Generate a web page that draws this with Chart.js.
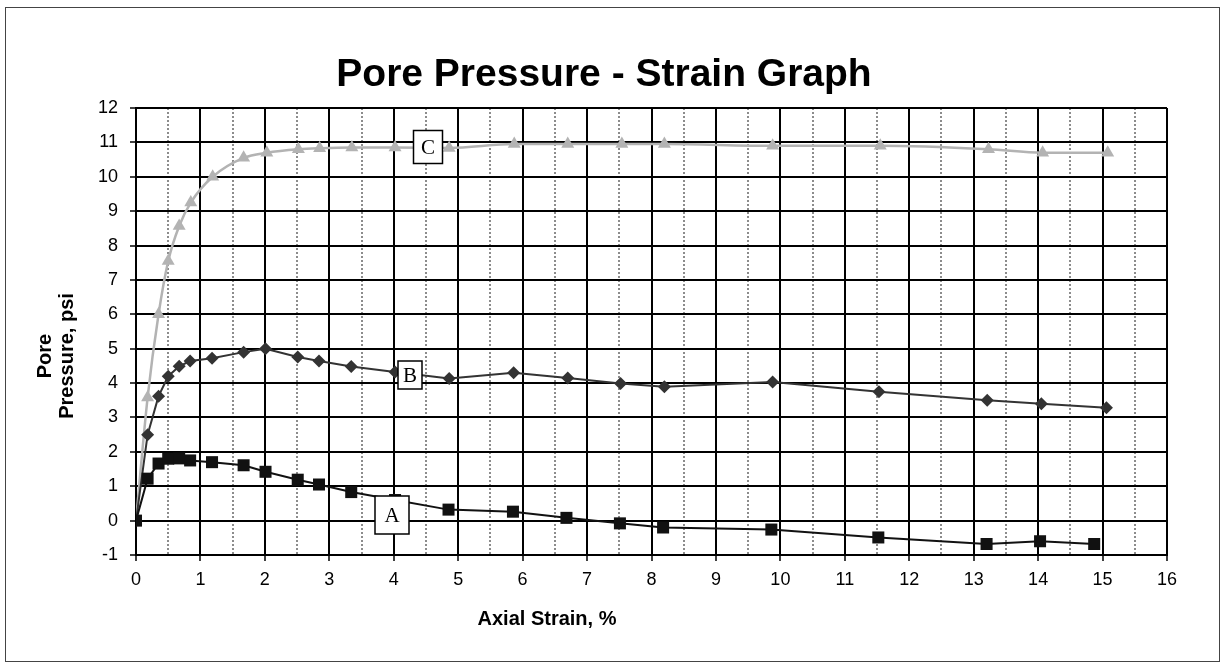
<!DOCTYPE html>
<html>
<head>
<meta charset="utf-8">
<title>Pore Pressure - Strain Graph</title>
<script src="https://cdn.jsdelivr.net/npm/chart.js@4"></script>
<style>
  body { margin: 0; background: #fff; }
  #wrap { width: 1223px; height: 666px; }
</style>
</head>
<body>
<div id="wrap"><canvas id="chart" width="1223" height="666"></canvas></div>
<script>
// Chart texts
const chartTitle = 'Pore Pressure - Strain Graph';
const xTitle = 'Axial Strain, %';
const yTitle = ['Pore', 'Pressure, psi'];

// Axis ranges
const xRange = [0, 16];
const yRange = [-1, 12];

// Curve A (squares)
const strainA = [0, 0.18, 0.35, 0.5, 0.67, 0.84, 1.18, 1.67, 2.01, 2.51, 2.84, 3.34, 4.02, 4.85, 5.85, 6.68, 7.51, 8.18, 9.86, 11.52, 13.2, 14.03, 14.87];
const poreA = [0, 1.22, 1.66, 1.80, 1.81, 1.75, 1.70, 1.61, 1.42, 1.19, 1.05, 0.83, 0.6, 0.32, 0.26, 0.08, -0.08, -0.2, -0.26, -0.49, -0.68, -0.60, -0.68];

// Curve B (diamonds)
const strainB = [0, 0.18, 0.35, 0.5, 0.67, 0.84, 1.18, 1.67, 2.01, 2.51, 2.84, 3.34, 4.02, 4.86, 5.86, 6.7, 7.52, 8.2, 9.88, 11.53, 13.21, 14.05, 15.06];
const poreB = [0, 2.50, 3.62, 4.20, 4.49, 4.64, 4.72, 4.90, 5.00, 4.76, 4.64, 4.48, 4.32, 4.13, 4.30, 4.15, 3.99, 3.89, 4.03, 3.75, 3.50, 3.40, 3.28];

// Curve C (triangles)
const strainC = [0, 0.18, 0.35, 0.5, 0.67, 0.85, 1.19, 1.67, 2.03, 2.52, 2.85, 3.35, 4.02, 4.86, 5.87, 6.7, 7.54, 8.2, 9.88, 11.55, 13.23, 14.07, 15.08];
const poreC = [0, 3.58, 6.0, 7.55, 8.57, 9.25, 10.0, 10.55, 10.7, 10.8, 10.83, 10.85, 10.85, 10.84, 10.95, 10.95, 10.95, 10.95, 10.9, 10.9, 10.8, 10.7, 10.7];

// Curve labels (letter, strain, pressure, box w, box h)
const curveLabels = [
  ['A', 3.97, 0.15, 34, 38],
  ['B', 4.25, 4.24, 24, 28],
  ['C', 4.53, 10.86, 29, 33]
];

const sansFont = '"Liberation Sans", Arial, Helvetica, sans-serif';

function toPoints(xs, ys) {
  return xs.map((x, i) => ({ x: x, y: ys[i] }));
}

function isMajor(ctx) {
  return ctx.tick && Number.isInteger(ctx.tick.value);
}

// Background, outer frame, titles and curve letters
const decorations = {
  id: 'decorations',
  beforeDraw(chart) {
    const ctx = chart.ctx;
    ctx.save();
    ctx.fillStyle = '#fff';
    ctx.fillRect(0, 0, chart.width, chart.height);
    ctx.strokeStyle = '#444';
    ctx.lineWidth = 1;
    ctx.strokeRect(5.5, 7.5, 1214, 654);
    ctx.restore();
  },
  afterDatasetsDraw(chart) {
    const ctx = chart.ctx;
    const xs = chart.scales.x;
    const ys = chart.scales.y;
    ctx.save();
    ctx.font = '21px "Liberation Serif", "Times New Roman", serif';
    ctx.textAlign = 'center';
    ctx.textBaseline = 'middle';
    curveLabels.forEach(([txt, sx, sy, w, h]) => {
      const cx = Math.round(xs.getPixelForValue(sx));
      const cy = Math.round(ys.getPixelForValue(sy));
      ctx.fillStyle = '#fff';
      ctx.fillRect(cx - w / 2, cy - h / 2, w, h);
      ctx.strokeStyle = '#000';
      ctx.lineWidth = 1.5;
      ctx.strokeRect(cx - w / 2, cy - h / 2, w, h);
      ctx.fillStyle = '#000';
      ctx.fillText(txt, cx, cy + 1);
    });
    ctx.restore();
  },
  afterDraw(chart) {
    const ctx = chart.ctx;
    ctx.save();
    ctx.fillStyle = '#000';
    ctx.textAlign = 'center';
    ctx.textBaseline = 'middle';
    ctx.font = 'bold 39px ' + sansFont;
    ctx.fillText(chartTitle, 604, 75);
    ctx.font = 'bold 20px ' + sansFont;
    ctx.fillText(xTitle, 547, 619);
    ctx.translate(45, 356);
    ctx.rotate(-Math.PI / 2);
    ctx.fillText(yTitle[0], 0, 0);
    ctx.fillText(yTitle[1], 0, 22);
    ctx.restore();
  }
};

window.onload = function() {
  const ctx = document.getElementById('chart').getContext('2d');
  new Chart(ctx, {
    type: 'scatter',
    data: {
      datasets: [
        {
          label: 'A',
          data: toPoints(strainA, poreA),
          showLine: true,
          borderColor: '#111',
          backgroundColor: '#111',
          borderWidth: 2,
          pointStyle: 'rect',
          pointRadius: 8.5,
          pointBorderWidth: 0,
          tension: 0
        },
        {
          label: 'B',
          data: toPoints(strainB, poreB),
          showLine: true,
          borderColor: '#333',
          backgroundColor: '#333',
          borderWidth: 2,
          pointStyle: 'rectRot',
          pointRadius: 6.5,
          pointBorderWidth: 0,
          tension: 0
        },
        {
          label: 'C',
          data: toPoints(strainC, poreC),
          showLine: true,
          borderColor: '#b3b3b3',
          backgroundColor: '#b3b3b3',
          borderWidth: 2.5,
          pointStyle: 'triangle',
          pointRadius: 7.5,
          pointBorderWidth: 0,
          cubicInterpolationMode: 'monotone'
        }
      ]
    },
    options: {
      responsive: false,
      animation: false,
      events: [],
      layout: { padding: { left: 0, top: 108, right: 56, bottom: 0 } },
      plugins: {
        legend: { display: false },
        tooltip: { enabled: false },
        title: { display: false }
      },
      scales: {
        x: {
          type: 'linear',
          min: xRange[0],
          max: xRange[1],
          afterFit(scale) { scale.height = 111; },
          ticks: {
            stepSize: 0.5,
            autoSkip: false,
            maxRotation: 0,
            padding: 8,
            color: '#000',
            font: { family: sansFont, size: 18 },
            callback: v => Number.isInteger(v) ? v : ''
          },
          grid: {
            color: c => isMajor(c) ? '#000' : '#8c8c8c',
            lineWidth: 2,
            tickLength: 6,
            tickWidth: 1.5,
            tickColor: c => isMajor(c) ? '#000' : 'rgba(0,0,0,0)'
          },
          border: {
            color: '#000',
            width: 2,
            dash: c => (c.tick && !Number.isInteger(c.tick.value)) ? [2, 2] : []
          }
        },
        y: {
          type: 'linear',
          min: yRange[0],
          max: yRange[1],
          afterFit(scale) { scale.width = 136; },
          ticks: {
            stepSize: 1,
            padding: 12,
            color: '#000',
            font: { family: sansFont, size: 18 }
          },
          grid: {
            color: '#000',
            lineWidth: 2,
            tickLength: 6,
            tickWidth: 1.5,
            tickColor: '#000'
          },
          border: { color: '#000', width: 2 }
        }
      }
    },
    plugins: [decorations]
  });
};
</script>
</body>
</html>
